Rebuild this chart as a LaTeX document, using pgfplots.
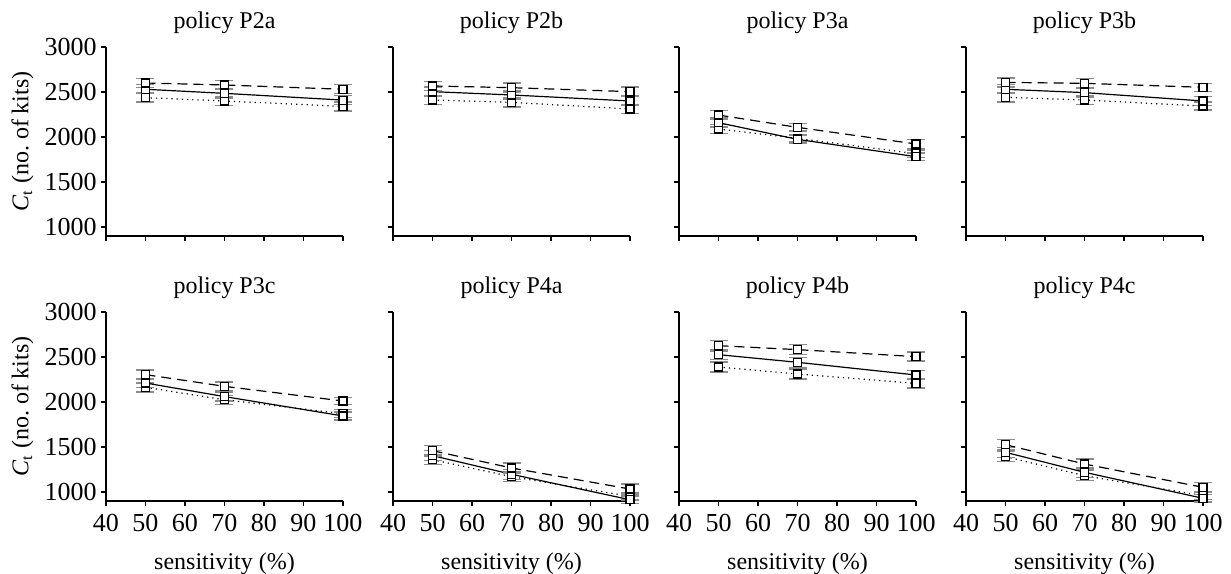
\documentclass[border=0pt]{standalone}
\usepackage{fontspec}
\setmainfont{Liberation Serif}
\usepackage{pgfplots}
\pgfplotsset{compat=1.18}
\pgfplotsset{
 panel/.style={
  scale only axis, width=118.5pt, height=94.5pt,
  xmin=40, xmax=100, ymin=900, ymax=3000,
  axis lines=left, axis line style={-, line width=0.6pt},
  xtick={40,50,...,100}, ytick={1000,1500,...,3000},
  tick align=outside, major tick length=2.5pt, tick style={black, line width=0.6pt},
  /pgf/number format/assume math mode=true,
  /pgf/number format/1000 sep={},
  label style={font=\fontsize{12}{14}\selectfont},
  ticklabel style={font=\fontsize{13}{15}\selectfont},
  xticklabel style={inner sep=2pt, yshift=-2pt},
  yticklabel style={inner sep=2pt},
  title style={font=\fontsize{12}{14}\selectfont, yshift=-2.7pt},
  clip=false, anchor=south west,
 },
 noxlab/.style={xticklabels={}},
 noylab/.style={yticklabels={}},
 bx/.style={xlabel={sensitivity (\%)}, xlabel style={yshift=-5pt}},
 ly/.style={ylabel={\textit{C}\textsubscript{t} (no.\ of  kits)}, ylabel style={yshift=0pt}},
 eb/.style={error bars/.cd, y dir=both, y explicit,
   error bar style={black!45, line width=0.7pt, solid},
   error mark options={rotate=90, mark size=4.5pt, black!45, line width=0.7pt, solid}},
 mk/.style={mark=square*, mark size=2pt, mark options={solid, fill=white, draw=black, line width=0.55pt}},
 s1/.style={black, line width=0.6pt, dash pattern=on 5pt off 3pt, mk, eb},
 s2/.style={black, line width=0.6pt, solid, mk, eb},
 s3/.style={black, line width=0.6pt, dotted, mk, eb},
}
\newcommand\panel[5]{%
\begin{axis}[panel,#1,title={#2}]
\addplot[s3] coordinates {#5};
\addplot[s2] coordinates {#4};
\addplot[s1] coordinates {#3};
\end{axis}}
\begin{document}
\begin{tikzpicture}
\path[use as bounding box] (0,0) rectangle (615.5pt,286.5pt);
% top row
\panel{at={(53pt,168.5pt)}, noxlab, ly}{policy P2a}
 {(50,2600) +- (0,50) (70,2578) +- (0,50) (100,2530) +- (0,50)}
 {(50,2530) +- (0,50) (70,2485) +- (0,50) (100,2410) +- (0,50)}
 {(50,2437) +- (0,50) (70,2400) +- (0,50) (100,2340) +- (0,50)}
\panel{at={(196.5pt,168.5pt)}, noxlab, noylab}{policy P2b}
 {(50,2567) +- (0,50) (70,2548) +- (0,50) (100,2504) +- (0,50)}
 {(50,2504) +- (0,50) (70,2467) +- (0,50) (100,2400) +- (0,50)}
 {(50,2411) +- (0,50) (70,2385) +- (0,50) (100,2311) +- (0,50)}
\panel{at={(339.5pt,168.5pt)}, noxlab, noylab}{policy P3a}
 {(50,2244) +- (0,50) (70,2107) +- (0,40) (100,1922) +- (0,50)}
 {(50,2159) +- (0,50) (70,1974) +- (0,40) (100,1781) +- (0,40)}
 {(50,2089) +- (0,50) (70,1985) +- (0,40) (100,1815) +- (0,40)}
\panel{at={(483pt,168.5pt)}, noxlab, noylab}{policy P3b}
 {(50,2607) +- (0,50) (70,2596) +- (0,55) (100,2552) +- (0,45)}
 {(50,2530) +- (0,50) (70,2493) +- (0,50) (100,2400) +- (0,50)}
 {(50,2441) +- (0,50) (70,2411) +- (0,50) (100,2344) +- (0,45)}
% bottom row
\panel{at={(53pt,36pt)}, ly, bx}{policy P3c}
 {(50,2304) +- (0,50) (70,2174) +- (0,50) (100,2011) +- (0,40)}
 {(50,2211) +- (0,50) (70,2060) +- (0,50) (100,1845) +- (0,45)}
 {(50,2163) +- (0,50) (70,2025) +- (0,50) (100,1870) +- (0,45)}
\panel{at={(196.5pt,36pt)}, noylab, bx}{policy P4a}
 {(50,1459) +- (0,60) (70,1267) +- (0,55) (100,1033) +- (0,55)}
 {(50,1404) +- (0,55) (70,1197) +- (0,55) (100,914) +- (0,40)}
 {(50,1359) +- (0,55) (70,1170) +- (0,55) (100,952) +- (0,40)}
\panel{at={(339.5pt,36pt)}, noylab, bx}{policy P4b}
 {(50,2626) +- (0,60) (70,2582) +- (0,55) (100,2504) +- (0,50)}
 {(50,2526) +- (0,55) (70,2441) +- (0,55) (100,2300) +- (0,50)}
 {(50,2389) +- (0,55) (70,2311) +- (0,55) (100,2207) +- (0,50)}
\panel{at={(483pt,36pt)}, noylab, bx}{policy P4c}
 {(50,1526) +- (0,60) (70,1311) +- (0,55) (100,1052) +- (0,55)}
 {(50,1441) +- (0,55) (70,1219) +- (0,55) (100,930) +- (0,40)}
 {(50,1393) +- (0,55) (70,1181) +- (0,55) (100,959) +- (0,40)}
\end{tikzpicture}
\end{document}
